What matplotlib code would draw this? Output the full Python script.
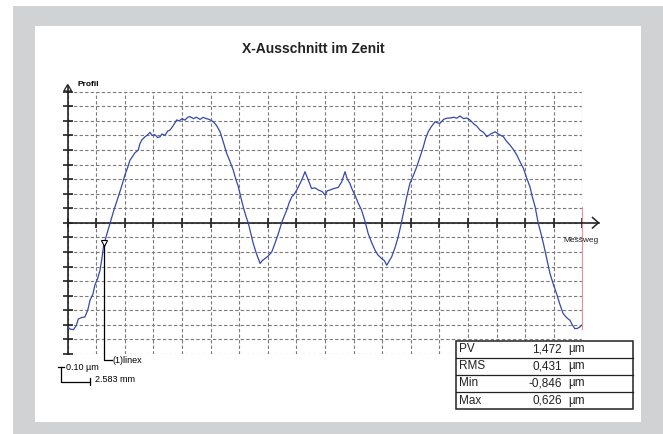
import numpy as np
import matplotlib
matplotlib.use('Agg')
import matplotlib.pyplot as plt
from matplotlib.patches import Rectangle, Polygon

plt.rcParams['font.family'] = ['Liberation Sans', 'DejaVu Sans']

# grid spacing as given by the scale bar
x_step = 2.583   # mm per grid
y_step = 0.10    # um per grid
n_x = 18
n_y = 9

# profile (x in grid steps, y in grid steps)
grid_x = [0.00, 0.10, 0.20, 0.30, 0.37, 0.48, 0.60, 0.70, 0.78, 0.88, 0.95, 1.05, 1.13, 1.20, 1.25,
          1.35, 1.48, 1.62, 1.77, 1.90, 2.00, 2.08, 2.18, 2.25, 2.35, 2.47, 2.52, 2.59, 2.70, 2.80,
          2.88, 2.95, 3.05, 3.15, 3.23, 3.30, 3.40, 3.50, 3.58, 3.70, 3.81, 3.90, 4.00, 4.10, 4.20,
          4.28, 4.40, 4.50, 4.63, 4.74, 4.85, 4.95, 5.09, 5.20, 5.33, 5.45, 5.56, 5.68, 5.79, 5.88,
          5.97, 6.05, 6.14, 6.22, 6.32, 6.40, 6.49, 6.60, 6.73, 6.80, 6.90, 7.00, 7.14, 7.25, 7.37,
          7.50, 7.66, 7.75, 7.84, 7.92, 8.01, 8.13, 8.22, 8.30, 8.42, 8.53, 8.65, 8.77, 8.90, 9.00,
          9.08, 9.17, 9.30, 9.46, 9.58, 9.70, 9.78, 9.87, 9.95, 10.05, 10.15, 10.28, 10.40, 10.51,
          10.62, 10.75, 10.85, 10.98, 11.08, 11.16, 11.25, 11.33, 11.45, 11.56, 11.65, 11.74, 11.85,
          11.97, 12.10, 12.21, 12.32, 12.44, 12.52, 12.61, 12.72, 12.85, 12.95, 13.02, 13.15, 13.26,
          13.40, 13.50, 13.61, 13.72, 13.85, 13.95, 14.07, 14.20, 14.30, 14.42, 14.55, 14.66, 14.80,
          14.95, 15.10, 15.24, 15.35, 15.47, 15.60, 15.71, 15.82, 15.94, 16.05, 16.17, 16.25, 16.35,
          16.46, 16.55, 16.64, 16.75, 16.87, 17.00, 17.10, 17.20, 17.33, 17.45, 17.57, 17.65, 17.74,
          17.82, 17.91, 17.97]
grid_y = [-7.15, -7.30, -7.33, -7.05, -6.60, -6.50, -6.46, -6.00, -5.31, -4.90, -4.28, -3.80, -3.25,
          -2.40, -1.65, -0.90, -0.04, 0.90, 1.79, 2.60, 3.28, 3.70, 4.31, 4.50, 4.80, 5.00, 5.40, 5.68,
          5.90, 6.05, 6.21, 6.00, 6.05, 5.85, 5.91, 6.10, 6.00, 6.30, 6.37, 6.70, 7.06, 7.00, 7.15,
          7.05, 7.25, 7.29, 7.15, 7.25, 7.10, 7.24, 7.15, 7.10, 6.94, 6.70, 6.25, 5.50, 4.77, 4.20,
          3.62, 3.00, 2.47, 1.80, 1.10, 0.55, -0.04, -0.70, -1.42, -2.10, -2.79, -2.60, -2.45, -2.30,
          -1.99, -1.40, -0.73, 0.10, 0.87, 1.40, 1.79, 1.95, 2.25, 2.71, 3.10, 3.51, 2.90, 2.36, 2.40,
          2.25, 2.15, 1.90, 2.20, 2.25, 2.35, 2.43, 2.80, 3.51, 3.00, 2.71, 2.30, 1.90, 1.40, 0.87,
          0.10, -0.73, -1.30, -1.88, -2.20, -2.45, -2.60, -2.91, -2.60, -2.34, -1.70, -0.96, -0.20,
          0.65, 1.70, 2.71, 3.30, 3.85, 4.50, 5.22, 5.80, 6.25, 6.60, 6.94, 6.85, 6.83, 7.10, 7.18,
          7.20, 7.25, 7.18, 7.33, 7.15, 7.20, 7.06, 6.80, 6.65, 6.37, 6.20, 5.91, 6.10, 6.25, 6.05,
          5.91, 5.60, 5.34, 5.00, 4.65, 4.20, 3.74, 3.10, 2.47, 1.80, 1.10, -0.04, -0.70, -1.42,
          -2.40, -3.48, -4.30, -4.85, -5.50, -6.23, -6.50, -6.69, -7.00, -7.26, -7.25, -7.15, -7.03]

stat_names = ['PV', 'RMS', 'Min', 'Max']
stat_values = ['1,472', '0,431', '-0,846', '0,626']
stat_unit = 'µm'

marker_x = 1.27  # grid steps, position of the (1)linex cursor


def main():
    x = np.array(grid_x) * x_step
    y = np.array(grid_y) * y_step

    fig = plt.figure(figsize=(6.63, 4.34), dpi=100)

    # background frame, pixel coordinates
    bg = fig.add_axes([0, 0, 1, 1], zorder=-1)
    bg.set_xlim(0, 663)
    bg.set_ylim(434, 0)
    bg.axis('off')
    bg.add_patch(Rectangle((13, 6), 650, 428, facecolor='#d1d2d4', edgecolor='none'))
    bg.add_patch(Rectangle((35, 26), 606, 396, facecolor='white', edgecolor='none'))

    # plot area
    ax = fig.add_axes([67.7 / 663, 80 / 434, 514.6 / 663, 262.3 / 434])
    ax.set_facecolor('none')
    ax.set_xlim(0, n_x * x_step)
    ax.set_ylim(-n_y * y_step, n_y * y_step)
    ax.set_xticks(np.arange(n_x + 1) * x_step)
    ax.set_yticks(np.arange(-n_y, n_y + 1) * y_step)
    ax.tick_params(direction='inout', length=7, width=1.2, color='#222222',
                   labelbottom=False, labelleft=False)
    ax.spines['top'].set_visible(False)
    ax.spines['right'].set_visible(False)
    ax.spines['left'].set_position(('data', 0))
    ax.spines['bottom'].set_position(('data', 0))
    for s in ['left', 'bottom']:
        ax.spines[s].set_linewidth(1.2)
        ax.spines[s].set_color('#222222')
    ax.grid(True, linestyle=(0, (3, 2)), color='#7a7a7a', linewidth=0.8)
    ax.set_axisbelow(True)

    ax.plot(x, y, color='#3448b0', linewidth=0.9, zorder=3, clip_on=False)

    # red end cursor
    ax.plot([n_x * x_step] * 2, [0.11, -0.73], color='#ef9090', linewidth=0.8, zorder=4,
            clip_on=False)

    # (1)linex cursor
    mx = marker_x * x_step
    my = np.interp(mx, x, y)
    ax.plot([mx, mx, 1.54 * x_step], [my, -0.942, -0.942], color='black', linewidth=0.9,
            clip_on=False, zorder=4)
    ax.plot(mx, my + 0.012, marker='v', markersize=5, markerfacecolor='white',
            markeredgecolor='black', markeredgewidth=0.8, clip_on=False, zorder=5)
    ax.text(1.56 * x_step, -0.942, '(1)linex', fontsize=6.5, va='center', ha='left',
            clip_on=False)

    # overlay: title, arrows, scale bar, result table (pixel coordinates)
    ov = fig.add_axes([0, 0, 1, 1], zorder=3)
    ov.set_xlim(0, 663)
    ov.set_ylim(434, 0)
    ov.axis('off')
    ov.patch.set_alpha(0)

    ov.text(313, 49, 'X-Ausschnitt im Zenit', fontsize=10, fontweight='bold',
            ha='center', va='center', color='#222222')

    # axis arrows
    ov.plot([67.7, 67.7], [91.7, 86], color='#222222', linewidth=1.2)
    ov.add_patch(Polygon([[67.7, 84.5], [63.8, 91], [71.6, 91]], closed=True,
                         facecolor='white', edgecolor='#222222', linewidth=0.9))
    ov.text(77, 85, 'Profil', fontsize=6, fontweight='bold', ha='left', va='center')
    ov.plot([582.3, 598.5], [222.7, 222.7], color='#222222', linewidth=1.2)
    ov.plot([592.5, 598.5, 592.5], [217.5, 222.7, 228], color='#222222', linewidth=1.1)
    ov.text(563, 241, 'Messweg', fontsize=6, ha='left', va='center', color='#222222')

    # scale bar
    ov.plot([57.5, 64], [366.7, 366.7], color='black', linewidth=0.9)
    ov.plot([60.7, 60.7, 90], [366.7, 381.7, 381.7], color='black', linewidth=0.9)
    ov.plot([90, 90], [378, 385], color='black', linewidth=0.9)
    ov.text(66, 368, '0.10 µm', fontsize=6.5, ha='left', va='center')
    ov.text(95, 380, '2.583 mm', fontsize=6.5, ha='left', va='center')

    # result table
    top, left, right, row_h = 340.7, 456, 632.7, 17.1
    ov.add_patch(Rectangle((left, top), right - left, row_h * len(stat_names),
                           facecolor='white', edgecolor='#222222', linewidth=1.1))
    for i in range(1, len(stat_names)):
        ov.plot([left, right], [top + i * row_h] * 2, color='#222222', linewidth=0.9)
    for i in range(len(stat_names)):
        yc = top + (i + 0.5) * row_h
        ov.text(459, yc, stat_names[i], fontsize=8.5, ha='left', va='center', color='#222222')
        ov.text(562, yc, stat_values[i], fontsize=8.5, ha='right', va='center', color='#222222')
        ov.text(568.5, yc, stat_unit, fontsize=8.5, ha='left', va='center', color='#222222')

    fig.savefig('out.png', dpi=100)


if __name__ == '__main__':
    main()
